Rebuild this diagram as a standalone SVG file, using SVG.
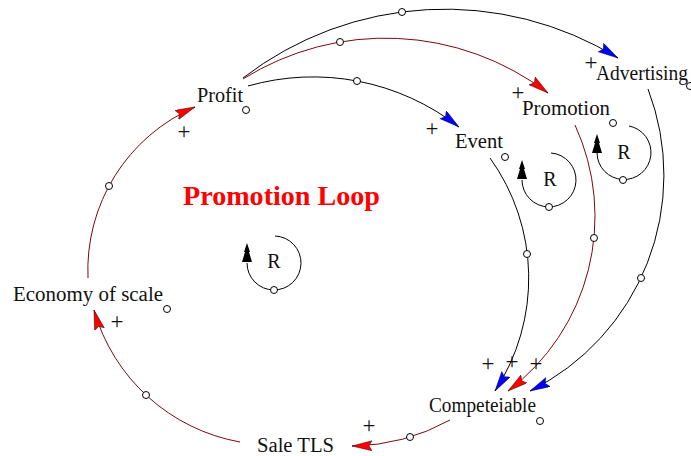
<svg xmlns="http://www.w3.org/2000/svg" width="691" height="456" viewBox="0 0 691 456">
<style>
  .lbl { font-family: "Liberation Serif", "Times New Roman", serif; font-size: 20px; fill: #111; }
  .pol { font-family: "Liberation Serif", "Times New Roman", serif; font-size: 23px; fill: #111; text-anchor: middle; }
  .title { font-family: "Liberation Serif", "Times New Roman", serif; font-size: 27px; font-weight: bold; fill: #ff0000; }
  .blk { fill: none; stroke: #000; stroke-width: 1; }
  .red { fill: none; stroke: #7a0a0a; stroke-width: 1; }
  .hnd { fill: #fff; stroke: #000; stroke-width: 1; }
  .loopArrow { fill: #000; }
</style>
<defs>
  <marker id="aBlue" markerUnits="userSpaceOnUse" markerWidth="23" markerHeight="12" refX="20" refY="5" orient="auto">
    <path d="M0,0 L20,5 L0,10 L3,5 Z" fill="#0000ff" stroke="#000033" stroke-width="0.5"/>
  </marker>
  <marker id="aRed" markerUnits="userSpaceOnUse" markerWidth="23" markerHeight="12" refX="20" refY="5" orient="auto">
    <path d="M0,0 L20,5 L0,10 L3,5 Z" fill="#ff0000" stroke="#330000" stroke-width="0.5"/>
  </marker>
</defs>
<rect width="691" height="456" fill="#fff"/>

<g id="connectors">
  <path id="c-profit-adv" class="blk" d="M243,78 A330.8,330.8 0 0 1 618,58" marker-end="url(#aBlue)"/>
  <path id="c-profit-promo" class="red" d="M243,79 A268.5,268.5 0 0 1 548,93" marker-end="url(#aRed)"/>
  <path id="c-profit-event" class="blk" d="M248,86 A237.5,237.5 0 0 1 459,127" marker-end="url(#aBlue)"/>
  <path id="c-econ-profit" class="red" d="M88,278 A177.7,177.7 0 0 1 195,107" marker-end="url(#aRed)"/>
  <path id="c-sale-econ" class="red" d="M240,442 A185.8,185.8 0 0 1 94,310" marker-end="url(#aRed)"/>
  <path id="c-comp-sale" class="red" d="M450,420 A206.6,206.6 0 0 1 352,446" marker-end="url(#aRed)"/>
  <path id="c-event-comp" class="blk" d="M490,158 A205.7,205.7 0 0 1 495,391" marker-end="url(#aBlue)"/>
  <path id="c-promo-comp" class="red" d="M575,125 A218.7,218.7 0 0 1 508,391" marker-end="url(#aRed)"/>
  <path id="c-adv-comp" class="blk" d="M648,89 A240.9,240.9 0 0 1 530,391" marker-end="url(#aBlue)"/>
  <circle class="hnd" cx="402" cy="12" r="3.5"/>
  <circle class="hnd" cx="340" cy="42" r="3.5"/>
  <circle class="hnd" cx="357" cy="81" r="3.5"/>
  <circle class="hnd" cx="109" cy="186" r="3.5"/>
  <circle class="hnd" cx="146" cy="395" r="3.5"/>
  <circle class="hnd" cx="410" cy="437" r="3.5"/>
  <circle class="hnd" cx="527" cy="254" r="3.5"/>
  <circle class="hnd" cx="594" cy="238" r="3.5"/>
  <circle class="hnd" cx="641" cy="278" r="3.5"/>
  <text class="pol" x="184" y="139">+</text>
  <text class="pol" x="117" y="329">+</text>
  <text class="pol" x="369" y="433">+</text>
  <text class="pol" x="432" y="136">+</text>
  <text class="pol" x="518" y="100">+</text>
  <text class="pol" x="591" y="70">+</text>
  <text class="pol" x="488" y="371">+</text>
  <text class="pol" x="512" y="369">+</text>
  <text class="pol" x="536" y="371">+</text>
</g>

<g id="node-profit">
  <text class="lbl" x="197" y="102" textLength="46" lengthAdjust="spacingAndGlyphs">Profit</text>
  <circle class="hnd" cx="246" cy="110" r="3.5"/>
</g>
<g id="node-advertising">
  <text class="lbl" x="596" y="80" textLength="92" lengthAdjust="spacingAndGlyphs">Advertising</text>
  <circle class="hnd" cx="690" cy="86" r="3.5"/>
</g>
<g id="node-promotion">
  <text class="lbl" x="522" y="115" textLength="88" lengthAdjust="spacingAndGlyphs">Promotion</text>
  <circle class="hnd" cx="613" cy="123" r="3.5"/>
</g>
<g id="node-event">
  <text class="lbl" x="455" y="148" textLength="48" lengthAdjust="spacingAndGlyphs">Event</text>
  <circle class="hnd" cx="505" cy="157" r="3.5"/>
</g>
<g id="node-economy">
  <text class="lbl" x="13" y="301" textLength="150" lengthAdjust="spacingAndGlyphs">Economy of scale</text>
  <circle class="hnd" cx="167" cy="309" r="3.5"/>
</g>
<g id="node-sale">
  <text class="lbl" x="257" y="452" textLength="77" lengthAdjust="spacingAndGlyphs">Sale TLS</text>
</g>
<g id="node-competiable">
  <text class="lbl" x="429" y="412" textLength="107" lengthAdjust="spacingAndGlyphs">Competeiable</text>
  <circle class="hnd" cx="540" cy="421" r="3.5"/>
</g>

<g id="title">
  <text class="title" x="183" y="205" textLength="197" lengthAdjust="spacingAndGlyphs">Promotion Loop</text>
</g>

<g id="loop-main">
  <path class="blk" d="M275,236 A27,27 0 1 1 247,263"/>
  <path class="loopArrow" d="M247,243 L250,252 L249,252 L252,262 L242,262 L245,252 L244,252 Z"/>
  <circle class="hnd" cx="274" cy="290" r="3.5"/>
  <text class="lbl" x="274" y="268" text-anchor="middle">R</text>
</g>
<g id="loop-event">
  <path class="blk" d="M551,153 A27,27 0 1 1 522,180"/>
  <path class="loopArrow" d="M522,160 L525,169 L524,169 L527,179 L517,179 L520,169 L519,169 Z"/>
  <circle class="hnd" cx="549" cy="207" r="3.5"/>
  <text class="lbl" x="550" y="186" text-anchor="middle">R</text>
</g>
<g id="loop-promotion">
  <path class="blk" d="M629,126 A27,27 0 1 1 597,153"/>
  <path class="loopArrow" d="M597,134 L600,143 L599,143 L602,153 L592,153 L595,143 L594,143 Z"/>
  <circle class="hnd" cx="623" cy="180" r="3.5"/>
  <text class="lbl" x="624" y="159" text-anchor="middle">R</text>
</g>
</svg>
